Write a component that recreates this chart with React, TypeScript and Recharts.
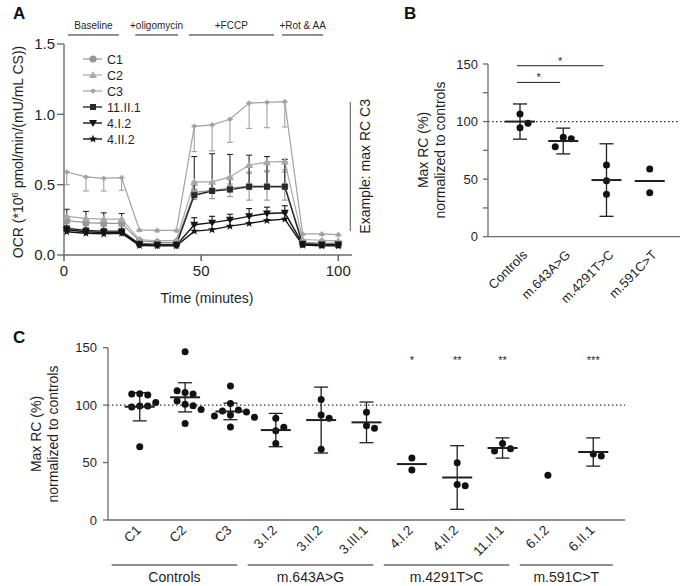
import React from 'react';
import {
  LineChart,
  Line,
  ScatterChart,
  Scatter,
  XAxis,
  YAxis,
  ErrorBar,
  ReferenceLine,
  ReferenceDot,
  Legend,
} from 'recharts';

const FONT = '"Liberation Sans", Arial, Helvetica, sans-serif';
const INK = '#1f1f1f';
const AXIS = '#6b6b6b';

// ---------- Panel A: OCR time course ----------
const times = [1, 8, 14.5, 21, 27.5, 34, 41, 47.5, 54, 60.5, 67.5, 74, 80.5, 87, 94, 100];
const ocrC1 = [0.245, 0.23, 0.225, 0.225, 0.1, 0.09, 0.09, 0.445, 0.46, 0.475, 0.49, 0.49, 0.49, 0.09, 0.085, 0.085];
const ocrC2 = [0.275, 0.26, 0.255, 0.255, 0.11, 0.1, 0.105, 0.52, 0.52, 0.555, 0.64, 0.66, 0.665, 0.11, 0.105, 0.1];
const ocrC3 = [0.59, 0.555, 0.545, 0.55, 0.178, 0.175, 0.175, 0.915, 0.925, 0.965, 1.08, 1.085, 1.09, 0.15, 0.15, 0.145];
const ocr11II1 = [0.19, 0.175, 0.17, 0.17, 0.08, 0.075, 0.075, 0.425, 0.455, 0.465, 0.485, 0.485, 0.485, 0.075, 0.07, 0.07];
const ocr4I2 = [0.18, 0.165, 0.16, 0.16, 0.075, 0.07, 0.07, 0.215, 0.23, 0.25, 0.275, 0.295, 0.3, 0.08, 0.075, 0.075];
const ocr4II2 = [0.165, 0.155, 0.15, 0.155, 0.068, 0.065, 0.065, 0.17, 0.18, 0.205, 0.225, 0.245, 0.255, 0.07, 0.065, 0.065];

const errC1 = [0.02, 0.02, 0.02, 0.02, 0.01, 0.01, 0.01, 0.05, 0.06, 0.06, 0.1, 0.1, 0.1, 0.01, 0.01, 0.01];
const errC2 = [0.03, 0.03, 0.03, 0.03, 0.01, 0.01, 0.01, 0.05, 0.05, 0.05, 0.06, 0.06, 0.06, 0.01, 0.01, 0.01];
const errC3 = [0.09, 0.1, 0.09, 0.09, 0.01, 0.01, 0.01, 0.18, 0.185, 0.165, 0.18, 0.18, 0.18, 0.01, 0.01, 0.01];
const err11II1 = [0.135, 0.135, 0.13, 0.125, 0.01, 0.01, 0.01, 0.275, 0.265, 0.25, 0.225, 0.215, 0.195, 0.01, 0.01, 0.01];
const err4I2 = [0.01, 0.01, 0.01, 0.01, 0.005, 0.005, 0.005, 0.05, 0.045, 0.04, 0.055, 0.045, 0.05, 0.005, 0.005, 0.005];

const phases = [
  { name: 'Baseline', start: 1.5, end: 20 },
  { name: '+oligomycin', start: 26, end: 41.5 },
  { name: '+FCCP', start: 45.5, end: 76.5 },
  { name: '+Rot & AA', start: 79.5, end: 94.5 },
];

const seriesA = [
  { key: 'c1', name: 'C1', values: ocrC1, err: errC1, dir: 'both', color: '#969696', marker: 'circle', width: 1.2 },
  { key: 'c2', name: 'C2', values: ocrC2, err: errC2, dir: 'down', color: '#a8a8a8', marker: 'triangle', width: 1.2 },
  { key: 'c3', name: 'C3', values: ocrC3, err: errC3, dir: 'down', color: '#a2a2a2', marker: 'dot', width: 1.2 },
  { key: 'p11', name: '11.II.1', values: ocr11II1, err: err11II1, dir: 'up', color: '#2a2a2a', marker: 'square', width: 1.4 },
  { key: 'p4i', name: '4.I.2', values: ocr4I2, err: err4I2, dir: 'up', color: '#141414', marker: 'down', width: 1.4 },
  { key: 'p4ii', name: '4.II.2', values: ocr4II2, err: null, dir: 'up', color: '#141414', marker: 'star', width: 1.4 },
];

const rowsA = times.map((t, i) => {
  const row: any = { t };
  seriesA.forEach((s) => {
    row[s.key] = s.values[i];
    if (s.err) {
      const e = s.err[i];
      row[s.key + '_e'] = s.dir === 'down' ? [e, 0] : s.dir === 'up' ? [0, e] : [e, e];
    }
  });
  return row;
});

// ---------- Panel B: max RC per variant ----------
const groupsB = ['Controls', 'm.643A>G', 'm.4291T>C', 'm.591C>T'];
const rcControls = [106.6, 98.5, 94.7];
const rc643 = [86.3, 85.1, 78.2];
const rc4291 = [62.3, 48.7, 36.8];
const rc591 = [58.8, 38.2];
const meanB = [100, 83.1, 49.2, 48.4];
const sdB = [15.3, 11.2, 31.5, null];
const sigB = [
  { from: 1, to: 2, y: 134, label: '*' },
  { from: 1, to: 3, y: 148.5, label: '*' },
];

// ---------- Panel C: max RC per subject ----------
const subjectsC = ['C1', 'C2', 'C3', '3.I.2', '3.II.2', '3.III.1', '4.I.2', '4.II.2', '11.II.1', '6.I.2', '6.II.1'];
const rcC1 = [110, 108.8, 109.7, 102.4, 99.2, 99.2, 98.3, 63.8];
const rcC2 = [146.5, 111.1, 109.7, 112.5, 103.6, 100.7, 99.5, 96.3, 84.1];
const rcC3 = [116.6, 101.5, 95.7, 94.8, 94, 91.5, 90.5, 89.5, 81];
const rc3I2 = [88.5, 80.7, 77.7, 66.7];
const rc3II2 = [105, 91.4, 88.5, 61.5];
const rc3III1 = [93.7, 82.1, 79.8];
const rc4I2 = [54, 43.5];
const rc4II2 = [49.9, 31, 29.9];
const rc11II1 = [66.7, 62, 60];
const rc6I2 = [38.9];
const rc6II1 = [57.4, 55.7];
const meanC = [98.6, 106.8, 94.5, 78.3, 87, 85, 48.7, 37, 62.7, null, 59.2];
const sdC = [12.3, 12.7, 7.2, 14.5, 28.7, 17.7, null, 27.7, 8.8, null, 12.3];
const sigC = ['', '', '', '', '', '', '*', '**', '**', '', '***'];
const groupNamesC = ['Controls', 'm.643A>G', 'm.4291T>C', 'm.591C>T'];
const groupSizesC = [3, 3, 3, 2];

// ---------- layout helpers ----------
const B_PLOT_W = 192;
const B_DOMAIN: [number, number] = [0.26, 4.7];
const C_PLOT_W = 517;
const C_DOMAIN: [number, number] = [0.3, 11.7];
const PX_Y = 172.5 / 150;
const UNIT_B = B_PLOT_W / (B_DOMAIN[1] - B_DOMAIN[0]);
const UNIT_C = C_PLOT_W / (C_DOMAIN[1] - C_DOMAIN[0]);

// simple beeswarm: spread overlapping dots sideways
function swarm(values: number[], unitX: number): number[] {
  const placed: { x: number; y: number }[] = [];
  const step = 8;
  return values.map((v) => {
    const y = v * PX_Y;
    for (let k = 0; k < 30; k++) {
      const off = k === 0 ? 0 : (k % 2 ? 1 : -1) * Math.ceil(k / 2) * step;
      const hit = placed.some((p) => Math.abs(p.x - off) < 7.5 && Math.abs(p.y - y) < 9.5);
      if (!hit) {
        placed.push({ x: off, y });
        return off / unitX;
      }
    }
    return 0;
  });
}

const toDots = (groups: number[][], unitX: number) =>
  groups.flatMap((vals, i) => {
    const offs = swarm(vals, unitX);
    return vals.map((v, j) => ({ x: i + 1 + offs[j], y: v }));
  });

const toMeans = (means: (number | null)[], sds: (number | null)[]) =>
  means
    .map((m, i) => (m == null ? null : { x: i + 1, y: m, sd: sds[i] == null ? undefined : sds[i] }))
    .filter(Boolean) as any[];

const dotsB = toDots([rcControls, rc643, rc4291, rc591], UNIT_B);
const meansB = toMeans(meanB, sdB);
const dotsC = toDots(
  [rcC1, rcC2, rcC3, rc3I2, rc3II2, rc3III1, rc4I2, rc4II2, rc11II1, rc6I2, rc6II1],
  UNIT_C
);
const meansC = toMeans(meanC, sdC);

// ---------- shapes ----------
const Marker = ({ kind, x, y, color }: any) => {
  if (x == null || y == null) return null;
  switch (kind) {
    case 'circle':
      return <circle cx={x} cy={y} r={3.6} fill={color} />;
    case 'dot':
      return <path d={`M${x},${y - 2.8} L${x + 2.8},${y} L${x},${y + 2.8} L${x - 2.8},${y}Z`} fill={color} />;
    case 'triangle':
      return <path d={`M${x},${y - 4} L${x + 4},${y + 3} L${x - 4},${y + 3}Z`} fill={color} />;
    case 'square':
      return <rect x={x - 3} y={y - 3} width={6} height={6} fill={color} />;
    case 'down':
      return <path d={`M${x - 4},${y - 3} L${x + 4},${y - 3} L${x},${y + 4}Z`} fill={color} />;
    case 'star': {
      const pts = [];
      for (let k = 0; k < 10; k++) {
        const r = k % 2 ? 1.8 : 4.3;
        const a = -Math.PI / 2 + (k * Math.PI) / 5;
        pts.push(`${x + r * Math.cos(a)},${y + r * Math.sin(a)}`);
      }
      return <polygon points={pts.join(' ')} fill={color} />;
    }
    default:
      return null;
  }
};

const DotShape = (p: any) => <circle cx={p.cx} cy={p.cy} r={3.5} fill="#111" />;
const MeanShape = (p: any) => (
  <line x1={p.cx - 15} x2={p.cx + 15} y1={p.cy} y2={p.cy} stroke={INK} strokeWidth={2} />
);

const LegendA = () => (
  <svg width={90} height={100} style={{ display: 'block' }}>
    {seriesA.map((s, i) => {
      const y = 9 + i * 16;
      return (
        <g key={s.key}>
          <line x1={3} x2={22} y1={y} y2={y} stroke={s.color} strokeWidth={s.width} />
          <Marker kind={s.marker} x={13} y={y} color={s.color} />
          <text x={27} y={y + 4.5} fontSize={12.5} fill={INK} fontFamily={FONT}>
            {s.name}
          </text>
        </g>
      );
    })}
  </svg>
);

const tickText = (size: number) => ({ fontSize: size, fill: INK, fontFamily: FONT });

const MajorTick = ({ x, y, payload }: any) =>
  payload.value % 50 === 0 ? (
    <text x={x} y={y} dy="0.35em" textAnchor="end" {...tickText(13)}>
      {payload.value}
    </text>
  ) : null;

const BTick = ({ x, y, payload }: any) => {
  const ax = x + 8;
  const ay = y + 19;
  return (
    <text x={ax} y={ay} transform={`rotate(-45 ${ax} ${ay})`} textAnchor="end" {...tickText(13)}>
      {groupsB[payload.value - 1]}
    </text>
  );
};

const groupStarts = groupSizesC.map((_, g) => groupSizesC.slice(0, g).reduce((a, b) => a + b, 0));

const CTick = ({ x, y, payload }: any) => {
  const i = payload.value - 1;
  const ax = x + 2;
  const ay = y + 11;
  const g = groupStarts.indexOf(i);
  let bracket = null;
  if (g >= 0) {
    const last = x + (groupSizesC[g] - 1) * UNIT_C;
    const start = x - 0.62 * UNIT_C;
    const end = Math.max(last + 0.15 * UNIT_C, start + 2.05 * UNIT_C);
    bracket = (
      <g>
        <line x1={start} x2={end} y1={y + 45} y2={y + 45} stroke={INK} strokeWidth={1} />
        <text x={(start + end) / 2} y={y + 62} textAnchor="middle" {...tickText(14)}>
          {groupNamesC[g]}
        </text>
      </g>
    );
  }
  return (
    <g>
      <text x={ax} y={ay} transform={`rotate(-45 ${ax} ${ay})`} textAnchor="end" {...tickText(13.5)}>
        {subjectsC[i]}
      </text>
      {bracket}
    </g>
  );
};

const rcLabel = (cx: number, cy: number) => () => (
  <g>
    <text transform={`translate(${cx},${cy}) rotate(-90)`} textAnchor="middle" {...tickText(14)}>
      Max RC (%)
    </text>
    <text transform={`translate(${cx + 17},${cy}) rotate(-90)`} textAnchor="middle" {...tickText(14)}>
      normalized to controls
    </text>
  </g>
);

const letterStyle = (left: number, top: number): React.CSSProperties => ({
  position: 'absolute',
  left,
  top,
  fontFamily: FONT,
  fontWeight: 700,
  fontSize: 17,
  lineHeight: '17px',
  color: '#111',
});

export default function App() {
  return (
    <div style={{ position: 'absolute', left: 0, top: 0, width: 681, height: 586, background: '#fff', overflow: 'hidden' }}>
      {/* Panel A */}
      <div style={{ position: 'absolute', left: 0, top: 0 }}>
        <LineChart width={400} height={310} data={rowsA} margin={{ top: 44, right: 48, bottom: 25, left: 20 }}>
          <XAxis
            type="number"
            dataKey="t"
            domain={[0, 105]}
            ticks={[0, 50, 100]}
            height={30}
            tickSize={6}
            tickMargin={4}
            stroke={AXIS}
            strokeWidth={1.6}
            tick={tickText(15)}
            label={() => (
              <text x={207} y={303} textAnchor="middle" {...tickText(14)}>
                Time (minutes)
              </text>
            )}
          />
          <YAxis
            type="number"
            domain={[0, 1.5]}
            ticks={[0, 0.5, 1, 1.5]}
            width={44}
            tickSize={7}
            tickMargin={2}
            stroke={AXIS}
            strokeWidth={1.4}
            tick={tickText(15)}
            tickFormatter={(v: number) => v.toFixed(1)}
            label={() => (
              <text transform="translate(22.5,152) rotate(-90)" textAnchor="middle" {...tickText(14)}>
                OCR (*10
                <tspan dy={-5} fontSize={9.5}>6</tspan>
                <tspan dy={5}> pmol/min/(mU/mL CS))</tspan>
              </text>
            )}
          />
          <Legend
            layout="horizontal"
            align="center"
            verticalAlign="middle"
            wrapperStyle={{ left: 80, top: 50, right: 'auto', bottom: 'auto', width: 90, height: 100 }}
            content={() => <LegendA />}
          />
          {phases.map((ph) => (
            <ReferenceLine
              key={ph.name}
              segment={[
                { x: ph.start, y: 1.564 },
                { x: ph.end, y: 1.564 },
              ]}
              stroke={INK}
              strokeWidth={1}
              ifOverflow="visible"
            />
          ))}
          {phases.map((ph) => (
            <ReferenceDot
              key={ph.name + '-t'}
              x={(ph.start + ph.end) / 2}
              y={1.63}
              ifOverflow="visible"
              shape={(p: any) => (
                <text x={p.cx} y={p.cy + 3.5} textAnchor="middle" {...tickText(10)}>
                  {ph.name}
                </text>
              )}
            />
          ))}
          <ReferenceLine
            segment={[
              { x: 104.4, y: 0.17 },
              { x: 104.4, y: 1.088 },
            ]}
            stroke="#777"
            strokeWidth={1.3}
            ifOverflow="visible"
          />
          <ReferenceDot
            x={104.4}
            y={0.63}
            ifOverflow="visible"
            shape={(p: any) => (
              <text transform={`translate(${p.cx + 20},${p.cy}) rotate(-90)`} textAnchor="middle" {...tickText(14)}>
                Example: max RC C3
              </text>
            )}
          />
          {seriesA.map((s) => (
            <Line
              key={s.key}
              type="linear"
              dataKey={s.key}
              name={s.name}
              stroke={s.color}
              strokeWidth={s.width}
              activeDot={false}
              isAnimationActive={false}
              dot={(p: any) => <Marker key={`${s.key}-${p.index}`} kind={s.marker} x={p.cx} y={p.cy} color={s.color} />}
            >
              {s.err && (
                <ErrorBar dataKey={s.key + '_e'} direction="y" width={3} stroke={s.color} strokeWidth={1.1} />
              )}
            </Line>
          ))}
        </LineChart>
      </div>

      {/* Panel B */}
      <div style={{ position: 'absolute', left: 400, top: 0 }}>
        <ScatterChart width={281} height={318} margin={{ top: 64, right: 1, bottom: 41.3, left: 48 }}>
          <XAxis
            type="number"
            dataKey="x"
            domain={B_DOMAIN}
            ticks={[1, 2, 3, 4]}
            interval={0}
            height={40}
            tickLine={false}
            tickSize={0}
            tickMargin={0}
            stroke={AXIS}
            strokeWidth={1.3}
            tick={<BTick />}
          />
          <YAxis
            type="number"
            dataKey="y"
            domain={[0, 150]}
            ticks={[0, 25, 50, 75, 100, 125, 150]}
            interval={0}
            width={40}
            tickSize={5}
            tickMargin={5}
            stroke={AXIS}
            strokeWidth={1.3}
            tick={<MajorTick />}
            label={rcLabel(28, 150)}
          />
          <ReferenceLine y={100} stroke="#333" strokeWidth={1.2} strokeDasharray="1.5 2.5" />
          {sigB.map((s) => (
            <ReferenceLine
              key={`sb-${s.to}`}
              segment={[
                { x: s.from - 0.07, y: s.y },
                { x: s.to - 0.07, y: s.y },
              ]}
              stroke={INK}
              strokeWidth={1}
              ifOverflow="visible"
            />
          ))}
          {sigB.map((s) => (
            <ReferenceDot
              key={`sbt-${s.to}`}
              x={(s.from + s.to) / 2 - 0.07}
              y={s.y}
              ifOverflow="visible"
              shape={(p: any) => (
                <text x={p.cx} y={p.cy - 1} textAnchor="middle" {...tickText(11)}>
                  {s.label}
                </text>
              )}
            />
          ))}
          <Scatter data={dotsB} shape={DotShape} isAnimationActive={false} />
          <Scatter data={meansB} shape={MeanShape} isAnimationActive={false}>
            <ErrorBar dataKey="sd" direction="y" width={7} stroke={INK} strokeWidth={1.3} />
          </Scatter>
        </ScatterChart>
      </div>

      {/* Panel C */}
      <div style={{ position: 'absolute', left: 0, top: 320 }}>
        <ScatterChart width={681} height={266} margin={{ top: 27.7, right: 56, bottom: 16, left: 68 }}>
          <XAxis
            type="number"
            dataKey="x"
            domain={C_DOMAIN}
            ticks={subjectsC.map((_, i) => i + 1)}
            interval={0}
            height={50}
            tickLine={false}
            tickSize={0}
            tickMargin={0}
            stroke={AXIS}
            strokeWidth={1.3}
            tick={<CTick />}
          />
          <YAxis
            type="number"
            dataKey="y"
            domain={[0, 150]}
            ticks={[0, 50, 100, 150]}
            interval={0}
            width={40}
            tickSize={5}
            tickMargin={6}
            stroke={AXIS}
            strokeWidth={1.3}
            tick={<MajorTick />}
            label={rcLabel(41, 114)}
          />
          <ReferenceLine y={100} stroke="#333" strokeWidth={1.2} strokeDasharray="1.5 2.5" />
          {sigC.map((s, i) =>
            s ? (
              <ReferenceDot
                key={`sc-${i}`}
                x={i + 1}
                y={141}
                ifOverflow="visible"
                shape={(p: any) => (
                  <text x={p.cx} y={p.cy + 6} textAnchor="middle" {...tickText(11)}>
                    {s}
                  </text>
                )}
              />
            ) : null
          )}
          <Scatter data={dotsC} shape={DotShape} isAnimationActive={false} />
          <Scatter data={meansC} shape={MeanShape} isAnimationActive={false}>
            <ErrorBar dataKey="sd" direction="y" width={7} stroke={INK} strokeWidth={1.3} />
          </Scatter>
        </ScatterChart>
      </div>

      <div style={letterStyle(13, 5)}>A</div>
      <div style={letterStyle(404, 5)}>B</div>
      <div style={letterStyle(13, 329)}>C</div>
    </div>
  );
}
